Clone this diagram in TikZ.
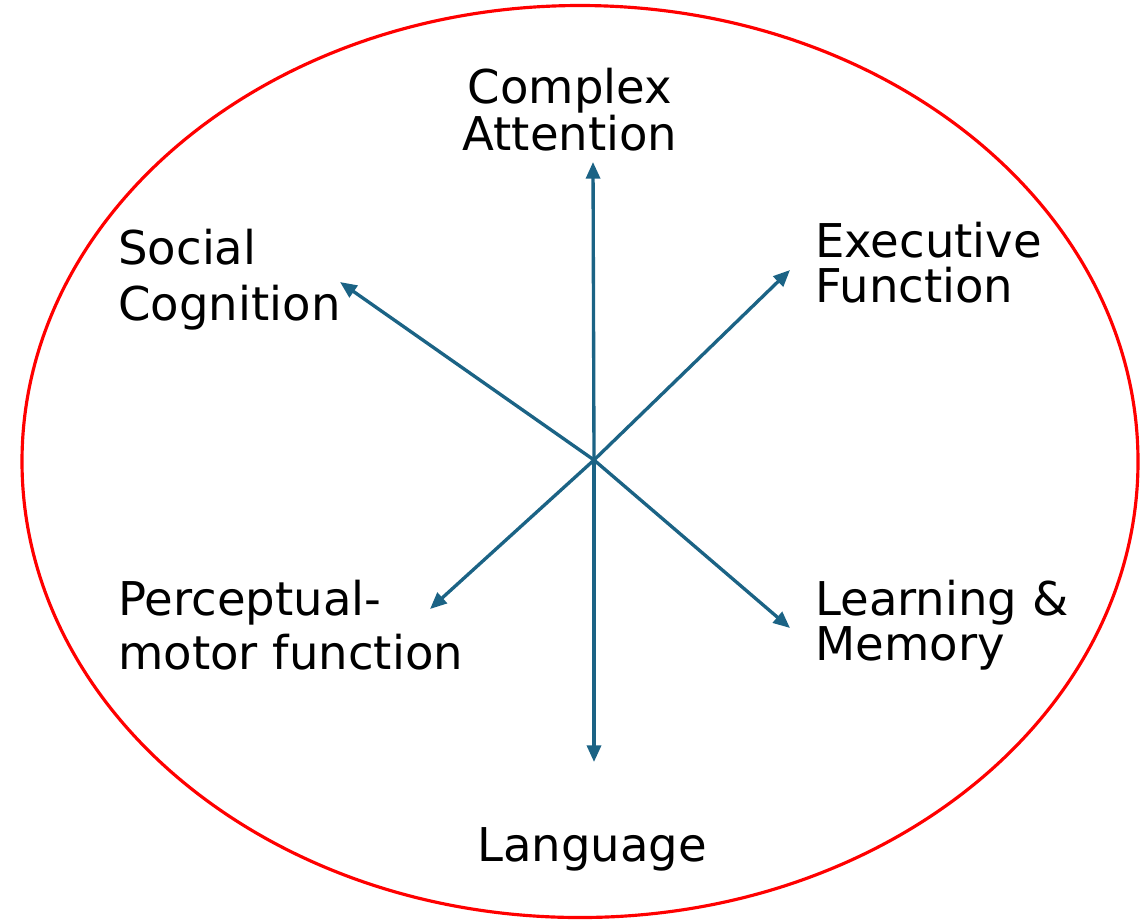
\documentclass[tikz,border=0pt]{standalone}
\usepackage{fontspec}
\setmainfont{DejaVu Sans}
\usetikzlibrary{arrows.meta}
\definecolor{axisblue}{RGB}{27,99,133}
\newcommand\domfont[1]{\fontsize{26.5}{#1}\selectfont}
\begin{document}
\begin{tikzpicture}[x=.02cm,y=-.02cm,
  dom/.style={font=\domfont{25.5},align=left,inner sep=0pt},
  ax/.style={draw=axisblue,line width=1.9pt,-{Triangle[length=9.5pt,width=8pt]}}]
\useasboundingbox (0,0) rectangle (1141,921);
\draw[red,line width=1.8pt] (580,461.5) ellipse [x radius=558,y radius=456];
% the six domains
\node[dom,align=center] (att) at (570,110) {Complex\\Attention};
\node[dom,anchor=west,font=\domfont{32}] (soc) at (118,280) {Social\\Cognition};
\node[dom,anchor=west] (exe) at (815,263) {Executive\\Function};
\node[dom,anchor=west,font=\domfont{31}] (per) at (118,625) {Perceptual-\\motor function};
\node[dom,anchor=west] (lea) at (815,625) {Learning \&\\Memory};
\node[dom] (lan) at (592,849) {Language};
% axes from the middle
\coordinate (o) at (594,460);
\path (593,162) coordinate (t-att) (790,270) coordinate (t-exe) (790,628) coordinate (t-lea)
  (594,762) coordinate (t-lan) (430,609) coordinate (t-per) (340,282) coordinate (t-soc);
\foreach \d in {att,exe,lea,lan,per,soc} \draw[ax] (o) -- (t-\d);
\end{tikzpicture}
\end{document}
